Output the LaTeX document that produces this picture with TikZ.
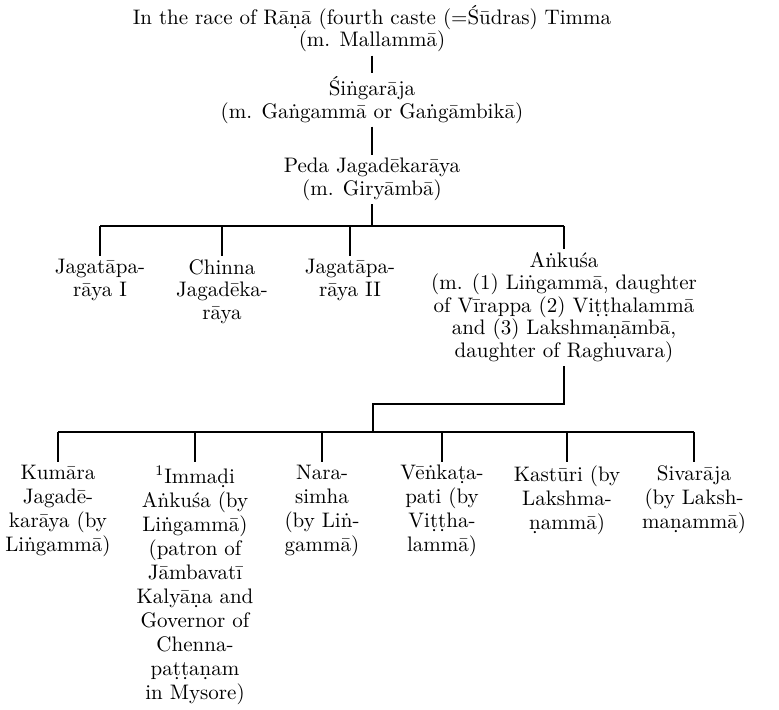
\documentclass[tikz,border=0pt]{standalone}
\usepackage{fontspec}
\tikzset{
  person/.style={align=center, inner sep=1.5pt, anchor=north,
    font=\fontsize{10.5}{11.25}\selectfont},
  child/.style={person, font=\fontsize{10.5}{12}\selectfont},
  link/.style={line width=0.7pt},
}
\begin{document}
\begin{tikzpicture}[x=0.5pt,y=-0.5pt]
  \useasboundingbox (0,0) rectangle (779,709);

  % Line of Timma
  \node[person] (timma) at (372,2) {In the race of Rāṇā (fourth caste (=Śūdras) Timma\\(m. Mallammā)};
  \node[person] (singa) at (372,73) {Śiṅgarāja\\(m. Gaṅgammā or Gaṅgāmbikā)};
  \node[person] (peda) at (372,155) {Peda Jagadēkarāya\\(m. Giryāmbā)};

  \coordinate (bar1) at (0,226);
  \coordinate (jog) at (373,404);
  \coordinate (bar2) at (0,432);

  % Sons of Peda Jagadekaraya
  \node[person] (jag1) at (100,256) {Jagatāpa-\\rāya I};
  \node[person] (chinna) at (222,256) {Chinna\\Jagadēka-\\rāya};
  \node[person] (jag2) at (350,256) {Jagatāpa-\\rāya II};
  \node[person] (ankusa) at (564,249) {Aṅkuśa\\(m. (1) Liṅgammā, daughter\\of Vīrappa (2) Viṭṭhalammā\\and (3) Lakshmaṇāmbā,\\daughter of Raghuvara)};

  % Sons of Ankusa
  \node[child] (kumara) at (58,462) {Kumāra\\Jagadē-\\karāya (by\\Liṅgammā)};
  \node[child] (immadi) at (195,462) {\textsuperscript{1}Immaḍi\\Aṅkuśa (by\\Liṅgammā)\\(patron of\\Jāmbavatī\\Kalyāṇa and\\Governor of\\Chenna-\\paṭṭaṇam\\in Mysore)};
  \node[child] (nara) at (322,462) {Nara-\\simha\\(by Liṅ-\\gammā)};
  \node[child] (venkata) at (442,462) {Vēṅkaṭa-\\pati (by\\Viṭṭha-\\lammā)};
  \node[child] (kasturi) at (567,462) {Kastūri (by\\Lakshma-\\ṇammā)};
  \node[child] (sivaraja) at (694,462) {Sivarāja\\(by Laksh-\\maṇammā)};

  % Connectors
  \draw[link] (timma) -- (singa);
  \draw[link] (singa) -- (peda);
  \draw[link] (peda) -- (peda |- bar1);
  \draw[link] (jag1 |- bar1) -- (ankusa |- bar1);
  \foreach \n in {jag1,chinna,jag2,ankusa}
    \draw[link] (\n |- bar1) -- (\n);

  \draw[link] (ankusa) |- (jog) -- (jog |- bar2);
  \draw[link] (kumara |- bar2) -- (sivaraja |- bar2);
  \foreach \n in {kumara,immadi,nara,venkata,kasturi,sivaraja}
    \draw[link] (\n |- bar2) -- (\n);
\end{tikzpicture}
\end{document}
